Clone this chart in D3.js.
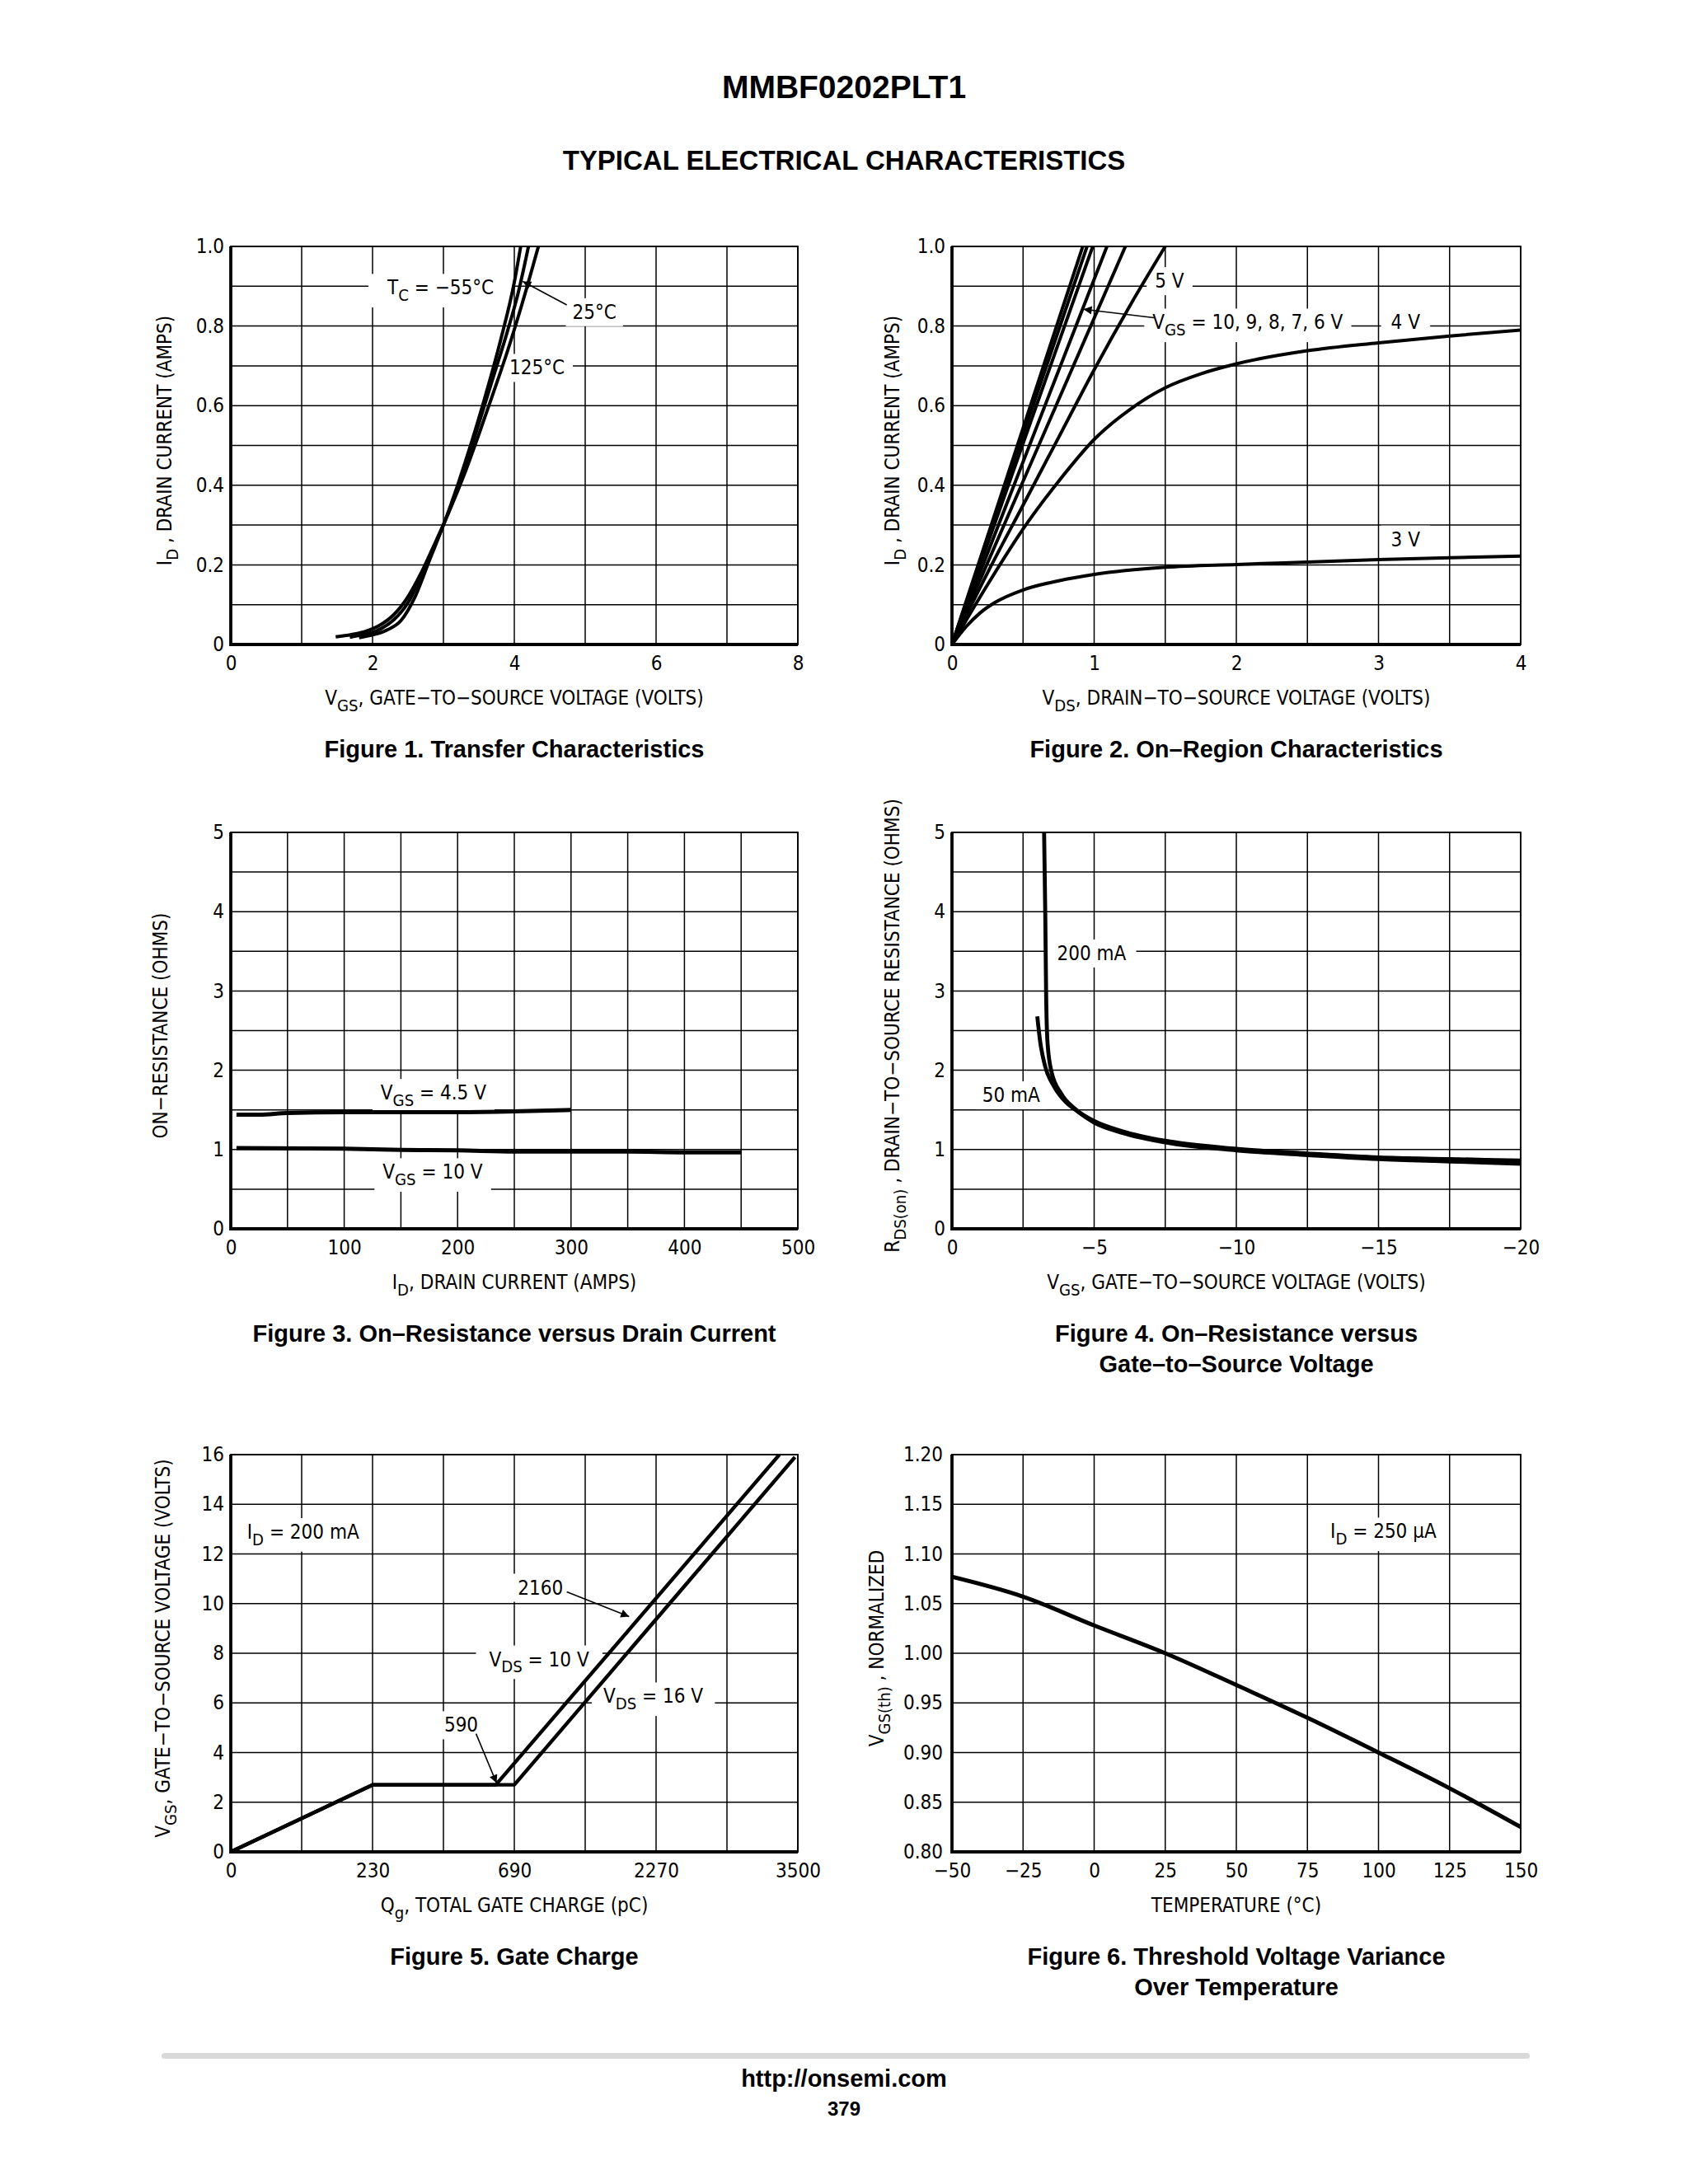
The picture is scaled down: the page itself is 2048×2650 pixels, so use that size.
<!doctype html>
<html>
<head>
<meta charset="utf-8">
<title>MMBF0202PLT1 typical electrical characteristics</title>
<script src="https://cdn.jsdelivr.net/npm/d3@7"></script>
<style>
  body { margin: 0; background: #fff; }
  svg text { fill: #000; }
</style>
</head>
<body>
<svg id="page" width="2048" height="2650"></svg>
<script>
const FONT = '"Liberation Sans Narrow","DejaVu Sans Condensed","Arial Narrow",sans-serif';
const BOLD = '"Liberation Sans",Arial,Helvetica,sans-serif';
const FS = 24;

// ---------- data ----------
// Figure 1: transfer characteristics, [VGS (V), ID (A)]
const fig1Cm55 = [[1.81,0.017],[2.0,0.024],[2.2,0.036],[2.4,0.06],[2.6,0.12],[2.8,0.21],[3.0,0.3],[3.2,0.4],[3.4,0.51],[3.6,0.63],[3.8,0.76],[4.0,0.91],[4.09,1.0]];
const fig1C25 = [[1.68,0.018],[1.9,0.026],[2.1,0.038],[2.3,0.062],[2.5,0.105],[2.7,0.178],[2.9,0.258],[3.1,0.345],[3.3,0.445],[3.5,0.555],[3.7,0.67],[3.9,0.785],[4.05,0.88],[4.2,1.0]];
const fig1C125 = [[1.48,0.019],[1.7,0.025],[1.9,0.033],[2.1,0.048],[2.3,0.075],[2.5,0.12],[2.7,0.185],[2.9,0.262],[3.1,0.342],[3.3,0.43],[3.5,0.528],[3.7,0.63],[3.9,0.735],[4.1,0.85],[4.34,1.0]];
const fig1XTicks = [0, 2, 4, 6, 8];
const fig1YTicks = [0, 0.2, 0.4, 0.6, 0.8, 1.0];

// Figure 2: on-region characteristics, [VDS (V), ID (A)]
const fig2V10 = [[0,0],[0.46,0.5],[0.92,1.0]];
const fig2V9 = [[0,0],[0.475,0.5],[0.95,1.0]];
const fig2V8 = [[0,0],[0.495,0.5],[0.99,1.0]];
const fig2V7 = [[0,0],[0.545,0.5],[1.09,1.0]];
const fig2V6 = [[0,0],[0.61,0.5],[1.22,1.0]];
const fig2V5 = [[0,0],[0.25,0.18],[0.5,0.35],[0.75,0.52],[1.0,0.69],[1.25,0.85],[1.5,1.0]];
const fig2V4 = [[0,0],[0.25,0.15],[0.5,0.29],[0.75,0.41],[1.0,0.515],[1.25,0.59],[1.5,0.645],[1.75,0.68],[2.0,0.705],[2.5,0.738],[3.0,0.758],[3.5,0.775],[4.0,0.79]];
const fig2V3 = [[0,0],[0.1,0.045],[0.2,0.08],[0.3,0.105],[0.5,0.137],[0.75,0.16],[1.0,0.176],[1.5,0.194],[2.0,0.201],[2.5,0.207],[3.0,0.213],[3.5,0.218],[4.0,0.222]];
const fig2XTicks = [0, 1, 2, 3, 4];
const fig2YTicks = [0, 0.2, 0.4, 0.6, 0.8, 1.0];

// Figure 3: on-resistance vs drain current, [ID, RDS (ohm)]
const fig3V45 = [[5,1.44],[25,1.44],[50,1.46],[100,1.47],[200,1.47],[250,1.48],[300,1.5]];
const fig3V10 = [[5,1.02],[100,1.01],[150,0.995],[200,0.99],[250,0.975],[300,0.975],[350,0.975],[400,0.965],[450,0.965]];
const fig3XTicks = [0, 100, 200, 300, 400, 500];
const fig3YTicks = [0, 1, 2, 3, 4, 5];

// Figure 4: on-resistance vs gate-to-source voltage, [VGS (V), RDS (ohm)]
const fig4I200 = [[-3.24,5.0],[-3.28,4.0],[-3.31,3.0],[-3.36,2.35],[-3.5,1.98],[-3.85,1.7],[-4.34,1.51],[-5,1.36],[-6,1.23],[-7.5,1.11],[-10,1.01],[-12.5,0.95],[-15,0.9],[-17.5,0.88],[-20,0.86]];
const fig4I50 = [[-3.0,2.68],[-3.11,2.34],[-3.27,2.06],[-3.6,1.79],[-4.0,1.6],[-4.34,1.5],[-5,1.34],[-6,1.21],[-7.5,1.09],[-10,0.99],[-12.5,0.93],[-15,0.88],[-17.5,0.85],[-20,0.82]];
const fig4XTicks = [0, -5, -10, -15, -20];
const fig4YTicks = [0, 1, 2, 3, 4, 5];

// Figure 5: gate charge, [Qg (pC), VGS (V)]
const fig5Vds10 = [[0,0],[230,2.7],[630,2.7],[3340,16]];
const fig5Vds16 = [[0,0],[230,2.7],[690,2.7],[3475,15.9]];
const fig5XTicks = [0, 230, 690, 2270, 3500];
const fig5YTicks = [0, 2, 4, 6, 8, 10, 12, 14, 16];

// Figure 6: threshold voltage over temperature, [T (°C), VGS(th) normalized]
const fig6Vth = [[-50,1.077],[-25,1.057],[0,1.028],[25,1.0],[50,0.968],[75,0.935],[100,0.9],[125,0.864],[150,0.825]];
const fig6XTicks = [-50, -25, 0, 25, 50, 75, 100, 125, 150];
const fig6YTicks = [0.80, 0.85, 0.90, 0.95, 1.00, 1.05, 1.10, 1.15, 1.20];

// ---------- page ----------
const svg = d3.select("#page");
const defs = svg.append("defs");
defs.append("marker").attr("id", "arrow")
  .attr("viewBox", "0 0 10 10").attr("refX", 10).attr("refY", 5)
  .attr("markerWidth", 17).attr("markerHeight", 10)
  .attr("markerUnits", "userSpaceOnUse").attr("orient", "auto")
  .append("path").attr("d", "M0,0L10,5L0,10z").attr("fill", "#000");

// text with V_{GS} style subscripts
function rich(t, str, fs) {
  let down = false;
  str.split(/(_\{[^}]*\})/).filter(s => s.length).forEach(s => {
    if (s.startsWith("_{")) {
      t.append("tspan").attr("font-size", fs * 0.84).attr("dy", fs * 0.32).text(s.slice(2, -1));
      down = true;
    } else {
      t.append("tspan").attr("dy", down ? -fs * 0.32 : null).text(s);
      down = false;
    }
  });
  return t;
}

function note(g, x, y, str, padX = 8) {
  const t = g.append("text").attr("x", x).attr("y", y + FS * 0.36)
    .attr("text-anchor", "middle").attr("font-family", FONT).attr("font-size", FS);
  rich(t, str, FS);
  const bb = t.node().getBBox();
  g.insert("rect", () => t.node())
    .attr("x", bb.x - padX).attr("y", bb.y - 3)
    .attr("width", bb.width + 2 * padX).attr("height", bb.height + 6)
    .attr("fill", "#fff");
}

function arrow(g, p0, p1) {
  g.append("line").attr("x1", p0[0]).attr("y1", p0[1]).attr("x2", p1[0]).attr("y2", p1[1])
    .attr("stroke", "#000").attr("stroke-width", 1.6).attr("marker-end", "url(#arrow)");
}

function panel(o) {
  const { left, top, w, h } = o;
  const g = svg.append("g").attr("transform", `translate(${left},${top})`);
  const x = o.x(w), y = o.y.range([h, 0]);

  const clipId = "clip" + o.id;
  defs.append("clipPath").attr("id", clipId).append("rect").attr("width", w).attr("height", h);

  // grid
  const xGrid = typeof o.xGrid === "function" ? o.xGrid(x, w) : o.xGrid;
  const grid = g.append("g").attr("stroke", "#000").attr("stroke-width", 1.5);
  grid.selectAll("line.gx").data(xGrid).join("line").attr("class", "gx")
    .attr("x1", d => x(d)).attr("x2", d => x(d)).attr("y1", 0).attr("y2", h);
  grid.selectAll("line.gy").data(o.yGrid).join("line").attr("class", "gy")
    .attr("y1", d => y(d)).attr("y2", d => y(d)).attr("x1", 0).attr("x2", w);

  // tick labels
  const ax = g.append("g").attr("transform", `translate(0,${h})`)
    .call(d3.axisBottom(x).tickValues(o.xTicks).tickFormat(o.xFmt).tickSize(0).tickPadding(14));
  ax.select(".domain").remove();
  ax.attr("font-size", FS).attr("font-family", FONT);
  const ay = g.append("g")
    .call(d3.axisLeft(y).tickValues(o.yTicks).tickFormat(o.yFmt).tickSize(0).tickPadding(o.yPad || 8));
  ay.select(".domain").remove();
  ay.attr("font-size", FS).attr("font-family", FONT);

  // labels sitting on the grid
  if (o.notes) o.notes(g, x, y, w, h);

  // frame: thin top/right, heavy left/bottom
  g.append("rect").attr("width", w).attr("height", h)
    .attr("fill", "none").attr("stroke", "#000").attr("stroke-width", 1.8);
  g.append("path").attr("d", `M0,0V${h}H${w}`)
    .attr("fill", "none").attr("stroke", "#000").attr("stroke-width", 3.8);

  // curves
  const line = d3.line().x(d => x(d[0])).y(d => y(d[1])).curve(o.curve || d3.curveMonotoneX);
  const cg = g.append("g").attr("clip-path", `url(#${clipId})`);
  o.series.forEach(s => {
    cg.append("path").attr("d", line(s)).attr("fill", "none")
      .attr("stroke", "#000").attr("stroke-width", o.sw || 4).attr("stroke-linejoin", "round");
  });
  if (o.arrows) o.arrows(g, x, y, w, h);

  // axis titles
  const xt = g.append("text").attr("x", w / 2).attr("y", h + 73).attr("text-anchor", "middle")
    .attr("font-family", FONT).attr("font-size", FS);
  rich(xt, o.xTitle, FS);
  const yt = g.append("text").attr("transform", `translate(${o.yTitleX},${h / 2 - 6}) rotate(-90)`)
    .attr("text-anchor", "middle").attr("font-family", FONT).attr("font-size", FS);
  rich(yt, o.yTitle, FS);

  // caption
  o.caption.forEach((c, i) => {
    g.append("text").attr("x", w / 2).attr("y", h + 137 + i * 37).attr("text-anchor", "middle")
      .attr("font-family", BOLD).attr("font-weight", "bold").attr("font-size", 29).text(c);
  });
}

const minus = v => v < 0 ? "\u2212" + (-v) : String(v);
const oneDec = v => v === 0 ? "0" : d3.format(".1f")(v);

const L = { left: 280, w: 688 }, R = { left: 1155, w: 690 };
const rows = [{ top: 299, h: 483 }, { top: 1010, h: 481 }, { top: 1765, h: 482 }];

panel({
  id: 1, ...L, ...rows[0],
  x: w => d3.scaleLinear().domain([0, 8]).range([0, w]),
  y: d3.scaleLinear().domain([0, 1]),
  xGrid: d3.range(0, 8.001, 1), yGrid: d3.range(0, 1.001, 0.1),
  xTicks: fig1XTicks, yTicks: fig1YTicks, xFmt: String, yFmt: oneDec,
  series: [fig1Cm55, fig1C25, fig1C125], sw: 4,
  notes: (g, x, y) => {
    note(g, x(2.96), y(0.897), "T_{C} = \u221255\u00b0C", 22);
    note(g, x(5.13), y(0.836), "25\u00b0C");
    note(g, x(4.32), y(0.696), "125\u00b0C", 10);
  },
  arrows: (g, x, y) => arrow(g, [x(4.74), y(0.853)], [x(4.12), y(0.912)]),
  xTitle: "V_{GS}, GATE\u2212TO\u2212SOURCE VOLTAGE (VOLTS)",
  yTitle: "I_{D} , DRAIN CURRENT (AMPS)", yTitleX: -72,
  caption: ["Figure 1. Transfer Characteristics"]
});

panel({
  id: 2, ...R, ...rows[0],
  x: w => d3.scaleLinear().domain([0, 4]).range([0, w]),
  y: d3.scaleLinear().domain([0, 1]),
  xGrid: d3.range(0, 4.001, 0.5), yGrid: d3.range(0, 1.001, 0.1),
  xTicks: fig2XTicks, yTicks: fig2YTicks, xFmt: String, yFmt: oneDec,
  series: [fig2V10, fig2V9, fig2V8, fig2V7, fig2V6, fig2V5, fig2V4, fig2V3], sw: 4,
  curve: d3.curveMonotoneX,
  notes: (g, x, y) => {
    note(g, x(1.53), y(0.914), "5 V", 10);
    note(g, x(2.08), y(0.81), "V_{GS} = 10, 9, 8, 7, 6 V", 10);
    note(g, x(3.19), y(0.81), "4 V", 12);
    note(g, x(3.19), y(0.265), "3 V", 12);
  },
  arrows: (g, x, y) => arrow(g, [x(1.42), y(0.821)], [x(0.925), y(0.842)]),
  xTitle: "V_{DS}, DRAIN\u2212TO\u2212SOURCE VOLTAGE (VOLTS)",
  yTitle: "I_{D} , DRAIN CURRENT (AMPS)", yTitleX: -64,
  caption: ["Figure 2. On\u2013Region Characteristics"]
});

panel({
  id: 3, ...L, ...rows[1],
  x: w => d3.scaleLinear().domain([0, 500]).range([0, w]),
  y: d3.scaleLinear().domain([0, 5]),
  xGrid: d3.range(0, 500.1, 50), yGrid: d3.range(0, 5.001, 0.5),
  xTicks: fig3XTicks, yTicks: fig3YTicks, xFmt: String, yFmt: String,
  series: [fig3V45, fig3V10], sw: 5,
  notes: (g, x, y) => {
    note(g, x(178.7), y(1.72), "V_{GS} = 4.5 V", 10);
    note(g, x(178), y(0.72), "V_{GS} = 10 V", 10);
  },
  xTitle: "I_{D}, DRAIN CURRENT (AMPS)",
  yTitle: "ON\u2212RESISTANCE (OHMS)", yTitleX: -77,
  caption: ["Figure 3. On\u2013Resistance versus Drain Current"]
});

panel({
  id: 4, ...R, ...rows[1],
  x: w => d3.scaleLinear().domain([0, -20]).range([0, w]),
  y: d3.scaleLinear().domain([0, 5]),
  xGrid: d3.range(0, -20.001, -2.5), yGrid: d3.range(0, 5.001, 0.5),
  xTicks: fig4XTicks, yTicks: fig4YTicks, xFmt: minus, yFmt: String,
  series: [fig4I200, fig4I50], sw: 4.8,
  notes: (g, x, y) => {
    note(g, x(-4.91), y(3.48), "200 mA", 12);
    note(g, x(-2.08), y(1.69), "50 mA", 8);
  },
  xTitle: "V_{GS}, GATE\u2212TO\u2212SOURCE VOLTAGE (VOLTS)",
  yTitle: "R_{DS(on)} , DRAIN\u2212TO\u2212SOURCE RESISTANCE (OHMS)", yTitleX: -64,
  caption: ["Figure 4. On\u2013Resistance versus", "Gate\u2013to\u2013Source Voltage"]
});

panel({
  id: 5, ...L, ...rows[2],
  x: w => d3.scaleLinear().domain(fig5XTicks).range(fig5XTicks.map((d, i) => i * w / 4)),
  y: d3.scaleLinear().domain([0, 16]),
  xGrid: (x, w) => d3.range(9).map(c => x.invert(c * w / 8)), yGrid: d3.range(0, 16.001, 2),
  xTicks: fig5XTicks, yTicks: fig5YTicks, xFmt: String, yFmt: String,
  series: [fig5Vds10, fig5Vds16], sw: 4.4, curve: d3.curveLinear,
  notes: (g, x, y, w) => {
    const c = d3.scaleLinear([0, 8], [0, w]);
    note(g, c(1.02), y(12.9), "I_{D} = 200 mA", 6);
    note(g, c(4.37), y(10.66), "2160", 6);
    note(g, c(4.35), y(7.77), "V_{DS} = 10 V", 16);
    note(g, c(5.96), y(6.28), "V_{DS} = 16 V", 14);
    note(g, c(3.25), y(5.12), "590", 6);
  },
  arrows: (g, x, y, w) => {
    const c = d3.scaleLinear([0, 8], [0, w]);
    arrow(g, [c(4.74), y(10.47)], [c(5.62), y(9.48)]);
    arrow(g, [c(3.46), y(4.76)], [c(3.75), y(2.77)]);
  },
  xTitle: "Q_{g}, TOTAL GATE CHARGE (pC)",
  yTitle: "V_{GS}, GATE\u2212TO\u2212SOURCE VOLTAGE (VOLTS)", yTitleX: -74,
  caption: ["Figure 5. Gate Charge"]
});

panel({
  id: 6, ...R, ...rows[2],
  x: w => d3.scaleLinear().domain([-50, 150]).range([0, w]),
  y: d3.scaleLinear().domain([0.8, 1.2]),
  xGrid: fig6XTicks, yGrid: fig6YTicks,
  xTicks: fig6XTicks, yTicks: fig6YTicks, xFmt: minus, yFmt: d3.format(".2f"), yPad: 11,
  series: [fig6Vth], sw: 5,
  notes: (g, x, y) => note(g, x(101.7), y(1.123), "I_{D} = 250 \u03bcA", 8),
  xTitle: "TEMPERATURE (\u00b0C)",
  yTitle: "V_{GS(th)} , NORMALIZED", yTitleX: -83,
  caption: ["Figure 6. Threshold Voltage Variance", "Over Temperature"]
});

// header and footer
svg.append("text").attr("x", 1024).attr("y", 119).attr("text-anchor", "middle")
  .attr("font-family", BOLD).attr("font-weight", "bold").attr("font-size", 39).text("MMBF0202PLT1");
svg.append("text").attr("x", 1024).attr("y", 206).attr("text-anchor", "middle")
  .attr("font-family", BOLD).attr("font-weight", "bold").attr("font-size", 33).text("TYPICAL ELECTRICAL CHARACTERISTICS");
svg.append("rect").attr("x", 196).attr("y", 2491).attr("width", 1660).attr("height", 7)
  .attr("rx", 3.5).attr("fill", "#d9d9d9");
svg.append("text").attr("x", 1024).attr("y", 2532).attr("text-anchor", "middle")
  .attr("font-family", BOLD).attr("font-weight", "bold").attr("font-size", 29).text("http://onsemi.com");
svg.append("text").attr("x", 1024).attr("y", 2567).attr("text-anchor", "middle")
  .attr("font-family", BOLD).attr("font-weight", "bold").attr("font-size", 24).text("379");
</script>
</body>
</html>
